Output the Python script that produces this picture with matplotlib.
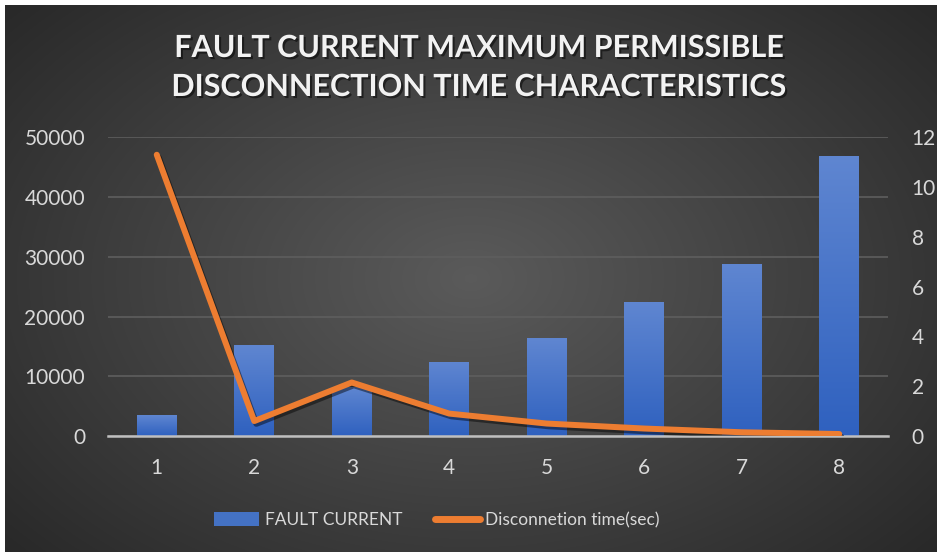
import numpy as np
import matplotlib
matplotlib.use("Agg")
import matplotlib.pyplot as plt
import matplotlib.patheffects as pe
from matplotlib.lines import Line2D
from matplotlib.patches import Patch

categories = ["1", "2", "3", "4", "5", "6", "7", "8"]
fault_current = [3500, 15200, 8200, 12400, 16400, 22400, 28800, 46900]
disconnection_time = [11.3, 0.6, 2.15, 0.9, 0.5, 0.3, 0.15, 0.08]
left_ticks = [0, 10000, 20000, 30000, 40000, 50000]
right_ticks = [0, 2, 4, 6, 8, 10, 12]

W, H = 942, 557
fig = plt.figure(figsize=(W / 100, H / 100), dpi=100, facecolor="white")

# background panel with radial gradient
bg = fig.add_axes([5 / W, 5 / H, 932 / W, 547 / H])
bg.set_axis_off()
yy, xx = np.mgrid[0:1:300j, 0:1:500j]
r = np.sqrt(((xx - 0.5) / 0.75) ** 2 + ((yy - 0.5) / 0.85) ** 2)
v = np.clip(0.355 - 0.22 * r, 0.13, 0.4)
img = np.dstack([v, v, v])
bg.imshow(img, extent=[0, 1, 0, 1], aspect="auto", interpolation="bilinear")
bg.set_xlim(0, 1)
bg.set_ylim(0, 1)

font = "Lato"
tc = "#d9d9d9"

ax = fig.add_axes([108 / W, (H - 436) / H, 780 / W, (436 - 137.3) / H])
ax.patch.set_alpha(0)
x = np.arange(len(categories))
bars = ax.bar(x, fault_current, width=0.41, color="#4472C4", zorder=2)
grad = np.linspace(0, 1, 100).reshape(-1, 1)
top_c = np.array([0x5F, 0x86, 0xD1]) / 255
bot_c = np.array([0x2F, 0x61, 0xBF]) / 255
gimg = bot_c[None, None, :] * (1 - grad[..., None]) + top_c[None, None, :] * grad[..., None]
for b in bars:
    bx, by, bw, bh = b.get_x(), b.get_y(), b.get_width(), b.get_height()
    im = ax.imshow(gimg, extent=[bx, bx + bw, by, by + bh], origin="lower",
                   aspect="auto", zorder=2.1, interpolation="bilinear")
    im.set_clip_path(b)
ax.set_xlim(-0.5, len(categories) - 0.5)
ax.set_ylim(0, 50000)
ax.set_yticks(left_ticks)
ax.set_yticklabels([str(t) for t in left_ticks])
ax.set_xticks(x)
ax.set_xticklabels(categories)
ax.yaxis.grid(True, color="#5e5e5e", linewidth=1.2, zorder=0)
ax.set_axisbelow(True)
for s in ["top", "right", "left"]:
    ax.spines[s].set_visible(False)
ax.spines["bottom"].set_color("#bfbfbf")
ax.spines["bottom"].set_linewidth(1.8)
ax.spines["bottom"].set_zorder(3)
ax.tick_params(axis="both", length=0, colors=tc, labelsize=15)
ax.tick_params(axis="y", pad=16.5)
ax.tick_params(axis="x", pad=16)
for lab in ax.get_xticklabels() + ax.get_yticklabels():
    lab.set_fontfamily(font)

ax2 = ax.twinx()
ax2.patch.set_alpha(0)
ax2.plot(x, disconnection_time, color="#ED7D31", linewidth=4.3,
         solid_capstyle="round", solid_joinstyle="round", zorder=4,
         path_effects=[pe.SimpleLineShadow(offset=(1.5, -2), shadow_color="black", alpha=0.45),
                       pe.Normal()])
ax2.set_ylim(0, 12)
ax2.set_yticks(right_ticks)
ax2.set_yticklabels([str(t) for t in right_ticks])
for s in ["top", "right", "left", "bottom"]:
    ax2.spines[s].set_visible(False)
ax2.tick_params(axis="y", length=0, colors=tc, labelsize=15, pad=17)
for lab in ax2.get_yticklabels():
    lab.set_fontfamily(font)

shadow = [pe.withSimplePatchShadow(offset=(1.5, -1.5), shadow_rgbFace="black", alpha=0.5)]
fig.text(479 / W, 1 - 48 / H, "FAULT CURRENT MAXIMUM PERMISSIBLE",
         ha="center", va="center", fontsize=22, fontweight="bold",
         color="#f2f2f2", family=font, path_effects=shadow)
fig.text(479 / W, 1 - 87 / H, "DISCONNECTION TIME CHARACTERISTICS",
         ha="center", va="center", fontsize=22, fontweight="bold",
         color="#f2f2f2", family=font, path_effects=shadow)

handles = [Patch(facecolor="#4472C4", edgecolor="none"),
           Line2D([0], [0], color="#ED7D31", linewidth=5, solid_capstyle="round")]
leg = fig.legend(handles, ["FAULT CURRENT", "Disconnetion time(sec)"],
                 loc="center", bbox_to_anchor=(437 / W, 1 - 520 / H), ncol=2,
                 frameon=False, prop={"family": font, "size": 12.5},
                 labelcolor=tc, handlelength=2.6, handleheight=0.9,
                 handletextpad=0.3, columnspacing=1.9)

fig.savefig("out.png", dpi=100, facecolor="white")
